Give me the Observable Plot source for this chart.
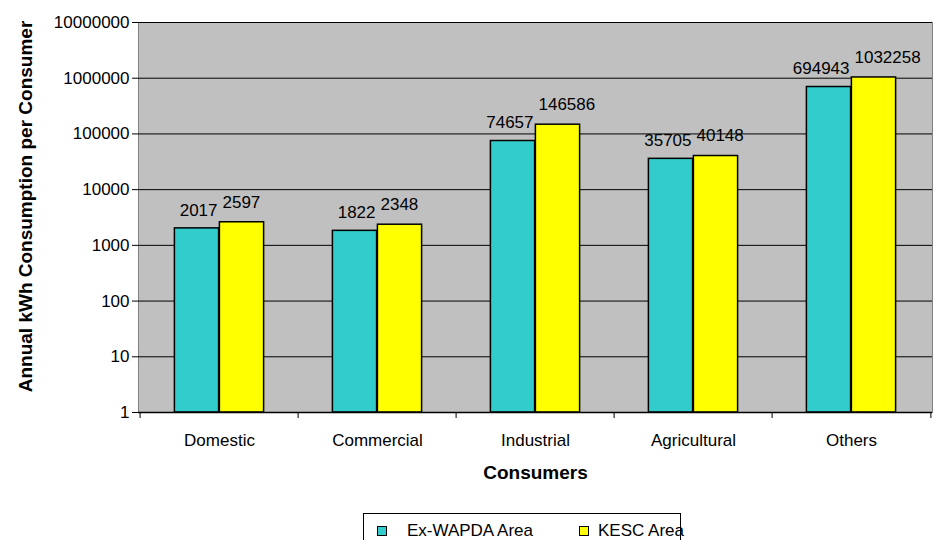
<!DOCTYPE html>
<html>
<head>
<meta charset="utf-8">
<script src="https://cdn.jsdelivr.net/npm/d3@7"></script>
<script src="https://cdn.jsdelivr.net/npm/@observablehq/plot@0.6"></script>
<style>
  html, body { margin: 0; padding: 0; background: #fff; }
  #wrap { position: relative; width: 937px; height: 540px; overflow: hidden; font-family: "Liberation Sans", Arial, sans-serif; }
  #legend { position: absolute; left: 363px; top: 513px; width: 318px; height: 40px; border: 1px solid #000; box-sizing: border-box; font-size: 17px; color: #000; }
  #legend .item { position: absolute; top: 7px; display: flex; align-items: center; white-space: nowrap; }
  #legend .sw { width: 8px; height: 8px; border: 1px solid #000; display: inline-block; }
</style>
</head>
<body>
<div id="wrap">
  <div id="chart"></div>
  <div id="legend"></div>
</div>
<script>
const categories = ["Domestic", "Commercial", "Industrial", "Agricultural", "Others"];
const seriesNames = ["Ex-WAPDA Area", "KESC Area"];
const exWapda = [2017, 1822, 74657, 35705, 694943];
const kesc = [2597, 2348, 146586, 40148, 1032258];
const yTicks = [1, 10, 100, 1000, 10000, 100000, 1000000, 10000000];
const colors = ["#33cccc", "#ffff00"];
const xTitle = "Consumers";
const yTitle = "Annual kWh Consumption per Consumer";

const rowsA = categories.map((c, i) => ({category: c, value: exWapda[i]}));
const rowsB = categories.map((c, i) => ({category: c, value: kesc[i]}));

const half = 158.8 / 2;

const plot = Plot.plot({
  width: 937,
  height: 510,
  marginLeft: 138,
  marginRight: 5,
  marginTop: 22,
  marginBottom: 98,
  style: {fontFamily: "'Liberation Sans', Arial, sans-serif", fontSize: "17px", color: "#000", background: "#fff"},
  x: {domain: categories, padding: 0, label: null, tickSize: 0, tickPadding: 21},
  y: {type: "log", domain: [1, 10000000], ticks: yTicks, tickFormat: d3.format("d"), label: null, tickSize: 6, tickPadding: 3, line: true},
  marks: [
    Plot.frame({fill: "#c0c0c0", stroke: "#808080"}),
    Plot.ruleY(yTicks, {stroke: "#000", strokeWidth: 1}),
    Plot.barY(rowsA, {x: "category", y1: () => 1, y2: "value", fill: colors[0], stroke: "#000", strokeWidth: 1.5, insetLeft: 34.4, insetRight: 79.4}),
    Plot.barY(rowsB, {x: "category", y1: () => 1, y2: "value", fill: colors[1], stroke: "#000", strokeWidth: 1.5, insetLeft: 79.4, insetRight: 34.4}),
    Plot.text(rowsA, {x: "category", y: "value", text: d => String(d.value), textAnchor: "end", dx: -2, dy: -18, fontSize: 17, fill: "#000"}),
    Plot.text(rowsB, {x: "category", y: "value", text: d => String(d.value), textAnchor: "start", dx: 3, dy: -20, fontSize: 17, fill: "#000"}),
    Plot.ruleY([1], {stroke: "#000", strokeWidth: 1.5}),
    Plot.ruleX(categories, {x: d => d, y1: () => 1, y2: () => 1, dx: -half, insetBottom: -6, stroke: "#000"}),
    Plot.ruleX(categories.slice(-1), {x: d => d, y1: () => 1, y2: () => 1, dx: half, insetBottom: -6, stroke: "#000"}),
    Plot.text([xTitle], {frameAnchor: "bottom", dy: 66, fontSize: 19, fontWeight: "bold", fill: "#000"}),
    Plot.text([yTitle], {frameAnchor: "left", textAnchor: "middle", dx: -113, dy: -11, rotate: -90, fontSize: 19, fontWeight: "bold", fill: "#000"})
  ]
});
document.getElementById("chart").appendChild(plot);

const legend = document.getElementById("legend");
const itemLefts = [13, 215];
seriesNames.forEach((name, i) => {
  const item = document.createElement("div");
  item.className = "item";
  item.style.left = itemLefts[i] + "px";
  const sw = document.createElement("span");
  sw.className = "sw";
  sw.style.background = colors[i];
  const label = document.createElement("span");
  label.textContent = name;
  label.style.marginLeft = (i === 0 ? 20 : 9) + "px";
  item.appendChild(sw);
  item.appendChild(label);
  legend.appendChild(item);
});
</script>
</body>
</html>
